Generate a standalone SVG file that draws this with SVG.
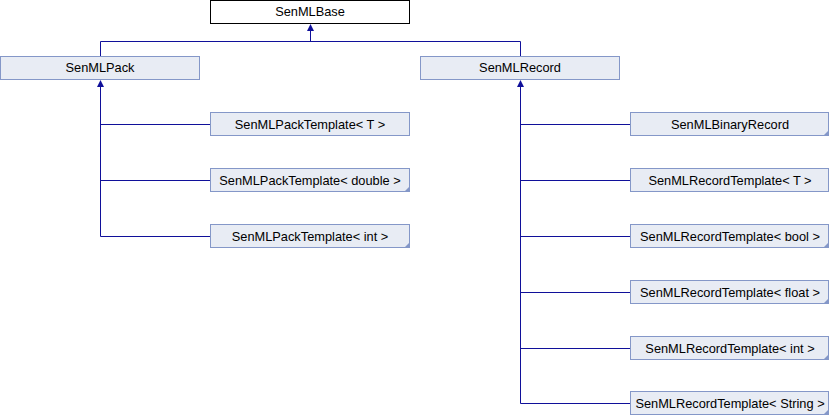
<svg xmlns="http://www.w3.org/2000/svg" width="830" height="416" viewBox="0 0 830 416">
<style>
.box{fill:#e8ecf4;stroke:#8497c8;stroke-width:1}
.base{fill:#ffffff;stroke:#000000;stroke-width:1}
.fold{fill:#8497c8}
text{font-family:"Liberation Sans",Arial,sans-serif;font-size:12.8px;fill:#000;text-anchor:middle}
.edge{fill:none;stroke:#10109a;stroke-width:1}
.ah{fill:#10109a}
</style>
<rect width="830" height="416" fill="#ffffff"/>
<g id="connectors">
<path class="edge" d="M310.5,41.5V28 M100.5,56V41.5H520.5V56"/>
<polygon class="ah" points="310.5,24 307,31 314,31"/>
<path class="edge" d="M100.5,84V236.5H210 M100.5,124.5H210 M100.5,180.5H210"/>
<polygon class="ah" points="100.5,80 97,87 104,87"/>
<path class="edge" d="M520.5,84V403.5H630 M520.5,124.5H630 M520.5,180.5H630 M520.5,236.5H630 M520.5,292.5H630 M520.5,348.5H630"/>
<polygon class="ah" points="520.5,80 517,87 524,87"/>
</g>
<g id="SenMLBase"><rect class="base" x="210.5" y="0.5" width="199" height="23"/><text x="310" y="16">SenMLBase</text></g>
<g id="SenMLPack"><rect class="box" x="0.5" y="56.5" width="199" height="23"/><text x="100" y="72">SenMLPack</text></g>
<g id="SenMLRecord"><rect class="box" x="420.5" y="56.5" width="199" height="23"/><text x="520" y="72">SenMLRecord</text></g>
<g id="PackT"><rect class="box" x="210.5" y="112.5" width="199" height="23"/><text x="310" y="128.5">SenMLPackTemplate&lt; T &gt;</text></g>
<g id="PackDouble"><rect class="box" x="210.5" y="168.5" width="199" height="23"/><polygon class="fold" points="410,186 410,192 404,192"/><text x="310" y="184.5">SenMLPackTemplate&lt; double &gt;</text></g>
<g id="PackInt"><rect class="box" x="210.5" y="224.5" width="199" height="23"/><polygon class="fold" points="410,242 410,248 404,248"/><text x="310" y="240.5">SenMLPackTemplate&lt; int &gt;</text></g>
<g id="BinaryRecord"><rect class="box" x="630.5" y="112.5" width="198" height="23"/><polygon class="fold" points="829,130 829,136 823,136"/><text x="730" y="128.5">SenMLBinaryRecord</text></g>
<g id="RecordT"><rect class="box" x="630.5" y="168.5" width="198" height="23"/><text x="730" y="184.5">SenMLRecordTemplate&lt; T &gt;</text></g>
<g id="RecordBool"><rect class="box" x="630.5" y="224.5" width="198" height="23"/><polygon class="fold" points="829,242 829,248 823,248"/><text x="730" y="240.5">SenMLRecordTemplate&lt; bool &gt;</text></g>
<g id="RecordFloat"><rect class="box" x="630.5" y="280.5" width="198" height="23"/><polygon class="fold" points="829,298 829,304 823,304"/><text x="730" y="296.5">SenMLRecordTemplate&lt; float &gt;</text></g>
<g id="RecordInt"><rect class="box" x="630.5" y="336.5" width="198" height="23"/><polygon class="fold" points="829,354 829,360 823,360"/><text x="730" y="352.5">SenMLRecordTemplate&lt; int &gt;</text></g>
<g id="RecordString"><rect class="box" x="630.5" y="391.5" width="198" height="23"/><polygon class="fold" points="829,409 829,415 823,415"/><text x="730" y="407.5">SenMLRecordTemplate&lt; String &gt;</text></g>
</svg>
